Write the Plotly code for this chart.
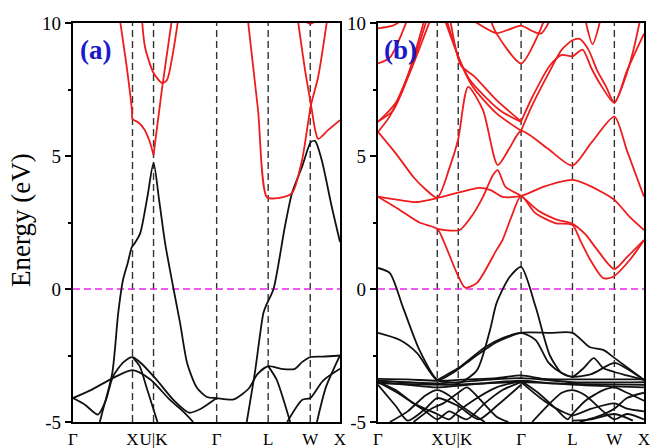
import numpy as np
import plotly.graph_objects as go

# High-symmetry path  Γ-X-U|K-Γ-L-W-X  (segment lengths in units of 2π/a)
segment_lengths = [1.0, 0.3536, 1.0607, 0.8660, 0.7071, 0.5]
k_labels = ["Γ", "X", "U|K", "Γ", "L", "W", "X"]
k_nodes = np.concatenate([[0.0], np.cumsum(segment_lengths)])

e_ticks = [-5, 0, 5, 10]
e_tick_labels = ["-5", "0", "5", "10"]
fermi_level = 0.0

# ---------------- panel (a): bands as (k, E[eV]) samples ----------------
a_conduction = [
    [(0.79, 10.1), (0.91, 8.23), (0.99, 6.73), (1.0, 6.39), (1.10, 6.26), (1.20, 6.0), (1.28, 5.6), (1.354, 5.04)],
    [(1.354, 5.04), (1.50, 7.6), (1.66, 10.1)],
    [(1.16, 10.1), (1.21, 9.1), (1.354, 8.12), (1.50, 7.74), (1.58, 7.86), (1.68, 8.87), (1.765, 10.1)],
    [(2.94, 10.1), (3.11, 6.73), (3.26, 3.45), (3.45, 3.42), (3.68, 3.6), (3.85, 4.85), (4.0, 6.92), (4.12, 7.97), (4.27, 10.1)],
    [(3.78, 10.1), (3.90, 8.23), (4.0, 6.92), (4.07, 5.98), (4.12, 5.64), (4.29, 5.98), (4.487, 6.35)],
    [(3.88, 10.1), (3.987, 9.97), (4.10, 10.1)],
]
a_valence = [
    [(0.45, -5.0), (0.49, -4.66), (0.66, -3.16), (0.76, -0.9), (0.84, 0.34), (0.92, 0.98), (0.99, 1.58),
     (1.04, 1.73), (1.13, 2.1), (1.25, 3.46), (1.354, 4.74), (1.45, 3.3), (1.55, 1.7), (1.69, 0.0),
     (1.80, -1.28), (1.92, -2.8), (2.08, -3.7), (2.25, -4.06), (2.414, -4.1), (2.7, -4.15),
     (2.95, -3.75), (3.1, -3.2), (3.28, -2.9), (3.5, -3.0), (3.73, -3.0), (3.85, -2.75),
     (3.987, -2.56), (4.2, -2.54), (4.487, -2.5)],
    [(0.0, -4.1), (0.3, -3.8), (0.67, -3.35), (1.0, -3.05), (1.3, -3.4), (1.63, -4.17), (1.85, -4.6), (2.02, -5.0)],
    [(0.0, -4.1), (0.2, -4.35), (0.42, -4.72), (0.55, -4.2), (0.67, -3.3), (0.85, -2.75), (1.0, -2.56),
     (1.15, -2.8), (1.4, -3.4), (1.7, -4.2), (1.95, -4.65), (2.15, -4.5), (2.414, -4.1)],
    [(1.0, -2.56), (1.12, -2.9), (1.25, -3.8), (1.42, -5.0)],
    [(2.92, -5.0), (3.06, -3.1), (3.2, -0.9), (3.25, -0.6), (3.37, 0.0), (3.56, 2.33), (3.68, 3.6),
     (3.85, 4.6), (4.0, 5.53), (4.07, 5.56), (4.18, 4.85), (4.35, 3.08), (4.487, 1.77)],
    [(3.28, -2.9), (3.42, -3.4), (3.65, -5.0)],
    [(3.6, -5.0), (3.85, -4.17), (3.987, -4.1), (4.2, -3.45), (4.487, -3.0)],
    [(4.1, -5.0), (4.25, -3.7), (4.487, -2.5)],
]

# ---------------- panel (b) ----------------
b_conduction = [
    [(0.0, 3.47), (0.35, 3.0), (0.7, 2.5), (1.0, 2.26), (1.1, 1.84), (1.33, 0.6), (1.47, 0.05), (1.67, 0.23),
     (2.0, 1.47), (2.1, 1.84), (2.25, 2.71), (2.414, 3.5), (2.65, 2.86), (2.99, 2.48), (3.28, 2.41),
     (3.41, 1.84), (3.58, 1.1), (3.8, 0.41), (3.96, 0.45), (4.25, 1.1), (4.487, 1.84)],
    [(1.0, 2.26), (1.2, 2.2), (1.38, 2.22), (1.6, 2.8), (1.77, 3.46), (1.94, 4.29), (2.02, 4.47), (2.15, 3.84),
     (2.414, 3.5), (2.7, 2.95), (3.0, 2.62), (3.28, 2.45), (3.5, 2.05), (3.69, 1.5), (3.987, 0.75),
     (4.2, 1.2), (4.487, 1.84)],
    [(0.0, 3.47), (0.4, 3.33), (0.65, 3.27), (1.0, 3.42), (1.354, 3.62), (1.7, 3.8), (1.9, 3.72), (2.1, 3.46),
     (2.414, 3.5), (2.8, 3.85), (3.28, 4.1), (3.6, 3.85), (3.987, 3.35), (4.25, 2.7), (4.487, 2.22)],
    [(0.0, 5.91), (0.3, 5.1), (0.6, 4.2), (0.8, 3.75), (1.0, 3.43), (1.21, 4.58), (1.35, 5.6), (1.52, 7.6),
     (1.77, 6.73), (2.02, 4.66), (2.23, 5.34), (2.414, 5.94), (2.85, 5.3), (3.28, 4.64), (3.6, 5.5),
     (3.987, 6.48), (4.2, 5.2), (4.487, 3.47)],
    [(0.0, 6.28), (0.3, 7.0), (0.6, 8.6), (0.82, 10.1)],
    [(0.0, 6.3), (0.25, 6.7), (0.55, 8.2), (0.88, 10.1)],
    [(0.0, 5.91), (0.2, 6.5), (0.5, 8.0), (0.78, 10.1)],
    [(0.0, 8.48), (0.2, 8.7), (0.49, 10.1)],
    [(0.0, 9.8), (0.25, 9.9), (0.4, 10.1)],
    [(1.13, 10.1), (1.38, 8.6), (1.55, 7.86), (2.05, 6.73), (2.414, 6.28)],
    [(1.16, 10.1), (1.36, 8.7), (1.6, 7.6), (2.0, 6.6), (2.414, 5.95)],
    [(1.22, 10.1), (1.4, 8.4), (1.62, 8.0), (2.0, 7.1), (2.414, 6.3)],
    [(1.9, 10.1), (2.0, 9.6), (2.414, 8.48), (2.7, 9.55), (2.8, 10.1)],
    [(1.6, 10.1), (2.0, 9.62), (2.2, 9.75), (2.414, 9.9), (2.6, 9.7), (2.75, 9.6), (2.9, 10.1)],
    [(2.414, 6.3), (2.6, 7.2), (2.9, 8.4), (3.1, 8.8), (3.28, 8.75), (3.45, 9.0), (3.6, 8.3), (3.75, 7.7),
     (3.987, 7.0), (4.2, 8.2), (4.487, 9.6)],
    [(2.414, 5.95), (2.6, 6.9), (2.9, 8.2), (3.1, 9.0), (3.28, 9.35), (3.4, 9.4), (3.55, 9.0), (3.7, 8.2),
     (3.85, 7.6), (3.987, 7.0), (4.15, 7.8), (4.3, 8.9), (4.42, 10.1)],
    [(3.5, 10.1), (3.62, 9.2), (3.75, 10.1)],
]
b_valence = [
    [(0.0, 0.79), (0.2, 0.6), (0.42, -0.68), (0.7, -2.3), (1.0, -3.42), (1.2, -3.5), (1.38, -3.53),
     (1.67, -3.05), (1.89, -1.54), (2.0, -0.53), (2.22, 0.45), (2.414, 0.83), (2.66, -0.68), (2.9, -2.5),
     (3.1, -3.16), (3.28, -3.3), (3.47, -2.97), (3.64, -2.6), (3.8, -2.97), (3.987, -3.12), (4.2, -3.25),
     (4.487, -3.42)],
    [(0.0, -1.65), (0.37, -1.92), (0.66, -2.41), (1.0, -3.42), (1.3, -3.1), (1.6, -2.6), (2.0, -2.0),
     (2.414, -1.65), (2.9, -1.65), (3.28, -1.65), (3.57, -2.18), (3.8, -2.29), (3.987, -2.59), (4.487, -3.42)],
    [(1.0, -3.42), (1.4, -2.9), (1.8, -2.2), (2.1, -1.85), (2.414, -1.65), (2.66, -1.92), (2.88, -2.78),
     (3.1, -3.16), (3.28, -3.3), (3.6, -3.2), (3.987, -2.78), (4.2, -3.0), (4.487, -3.42)],
    [(0.0, -3.38), (0.5, -3.4), (1.0, -3.45), (1.5, -3.4), (2.0, -3.35), (2.414, -3.25), (2.8, -3.38),
     (3.28, -3.4), (4.0, -3.4), (4.487, -3.4)],
    [(0.0, -3.45), (1.0, -3.55), (1.354, -3.5), (2.414, -3.35), (3.28, -3.5), (4.487, -3.5)],
    [(0.0, -3.5), (0.5, -3.6), (1.0, -3.7), (2.0, -3.5), (2.414, -3.45), (3.0, -3.55), (4.487, -3.6)],
    [(0.0, -3.55), (1.2, -3.6), (2.414, -3.5), (3.5, -3.62), (4.487, -3.7)],
    [(0.0, -3.5), (0.3, -3.8), (0.6, -4.3), (1.0, -4.7), (1.2, -4.9), (1.354, -4.6), (1.6, -4.2),
     (2.0, -3.7), (2.414, -3.45)],
    [(0.0, -3.5), (0.4, -4.0), (0.8, -4.6), (1.0, -4.9), (1.2, -4.6), (1.5, -4.9), (1.8, -4.3),
     (2.1, -3.8), (2.414, -3.5)],
    [(0.0, -3.6), (0.3, -4.4), (0.5, -4.95), (0.8, -4.5), (1.0, -4.1), (1.354, -4.4), (1.7, -4.9),
     (2.0, -4.4), (2.414, -3.6)],
    [(0.2, -5.0), (0.5, -4.6), (0.8, -4.0), (1.0, -3.8), (1.2, -4.0), (1.354, -4.3), (1.6, -4.7), (1.8, -5.0)],
    [(0.6, -5.0), (0.9, -4.5), (1.1, -4.3), (1.354, -3.9), (1.5, -3.7), (1.7, -4.1), (2.0, -4.8), (2.2, -5.0)],
    [(2.414, -3.45), (2.7, -3.9), (3.0, -4.5), (3.2, -4.9), (3.28, -4.7), (3.5, -4.2), (3.8, -3.8),
     (3.987, -3.7), (4.2, -3.9), (4.487, -4.2)],
    [(2.414, -3.5), (2.8, -4.2), (3.1, -4.6), (3.28, -4.75), (3.6, -4.5), (3.987, -4.3), (4.2, -4.5), (4.487, -4.6)],
    [(2.6, -5.0), (2.9, -4.3), (3.1, -3.9), (3.28, -3.8), (3.5, -4.0), (3.8, -4.6), (3.987, -4.9),
     (4.2, -4.7), (4.487, -4.9)],
    [(3.4, -5.0), (3.7, -4.8), (3.987, -4.5), (4.2, -4.1), (4.487, -3.9)],
    [(3.28, -4.95), (3.6, -4.9), (3.987, -4.7), (4.3, -4.95)],
]

RED = "#ee1c1c"
BLACK = "#111111"
SERIF = "Liberation Serif"

fig = go.Figure()


def add_bands(bands, color, xa, ya):
    for band in bands:
        k, e = zip(*band)
        fig.add_trace(go.Scatter(
            x=k, y=e, mode="lines", xaxis=xa, yaxis=ya, hoverinfo="skip",
            line=dict(color=color, width=1.8, shape="spline", smoothing=0.7),
            showlegend=False,
        ))


add_bands(a_valence, BLACK, "x", "y")
add_bands(a_conduction, RED, "x", "y")
add_bands(b_valence, BLACK, "x2", "y2")
add_bands(b_conduction, RED, "x2", "y2")

W, H = 651, 448
y_dom = [1 - 422 / H, 1 - 23 / H]

axis_x = dict(
    range=[k_nodes[0], k_nodes[-1]], tickvals=list(k_nodes), ticktext=k_labels, tickangle=0,
    showline=True, linecolor="black", linewidth=2.2, mirror=True, ticks="", automargin=False,
    showgrid=False, zeroline=False, tickfont=dict(family=SERIF, size=17, color="black"),
)
axis_y = dict(
    range=[-5, 10], tickvals=e_ticks, ticktext=e_tick_labels, automargin=False,
    showline=True, linecolor="black", linewidth=2.2, mirror=True,
    ticks="outside", ticklen=6, tickwidth=1.5, tickcolor="black",
    minor=dict(ticks="outside", ticklen=3, tickwidth=1.5, tickcolor="black", dtick=2.5, tick0=0),
    showgrid=False, zeroline=False, tickfont=dict(family=SERIF, size=19, color="black"),
)

fig.update_layout(
    width=W, height=H, margin=dict(l=0, r=0, t=0, b=0, autoexpand=False),
    paper_bgcolor="white", plot_bgcolor="white",
    xaxis=dict(axis_x, domain=[73 / W, 340 / W], anchor="y"),
    yaxis=dict(axis_y, domain=y_dom, anchor="x"),
    xaxis2=dict(axis_x, domain=[378 / W, 644 / W], anchor="y2"),
    yaxis2=dict(axis_y, domain=y_dom, anchor="x2"),
)

# high-symmetry point separators and the Fermi level
for xr, yr in (("x", "y"), ("x2", "y2")):
    for kv in k_nodes[1:-1]:
        fig.add_shape(type="line", xref=xr, yref=yr, x0=kv, x1=kv, y0=-5, y1=10, layer="below",
                      line=dict(color="#333333", width=1.4, dash="7px,4px"))
    fig.add_shape(type="line", xref=xr, yref=yr, x0=k_nodes[0], x1=k_nodes[-1],
                  y0=fermi_level, y1=fermi_level, layer="below",
                  line=dict(color="#ee22ee", width=1.5, dash="7px,4px"))

fig.add_annotation(x=95 / W, y=1 - 50 / H, xref="paper", yref="paper", text="<b>(a)</b>",
                   xanchor="center", yanchor="middle",
                   showarrow=False, font=dict(family=SERIF, size=27, color="#1a1acc"))
fig.add_annotation(x=400 / W, y=1 - 50 / H, xref="paper", yref="paper", text="<b>(b)</b>",
                   xanchor="center", yanchor="middle",
                   showarrow=False, font=dict(family=SERIF, size=27, color="#1a1acc"))
fig.add_annotation(x=21 / W, y=1 - 220 / H, xref="paper", yref="paper", text="Energy (eV)",
                   xanchor="center", yanchor="middle", textangle=-90, showarrow=False,
                   font=dict(family=SERIF, size=27, color="black"))

fig.write_html("out.html")
